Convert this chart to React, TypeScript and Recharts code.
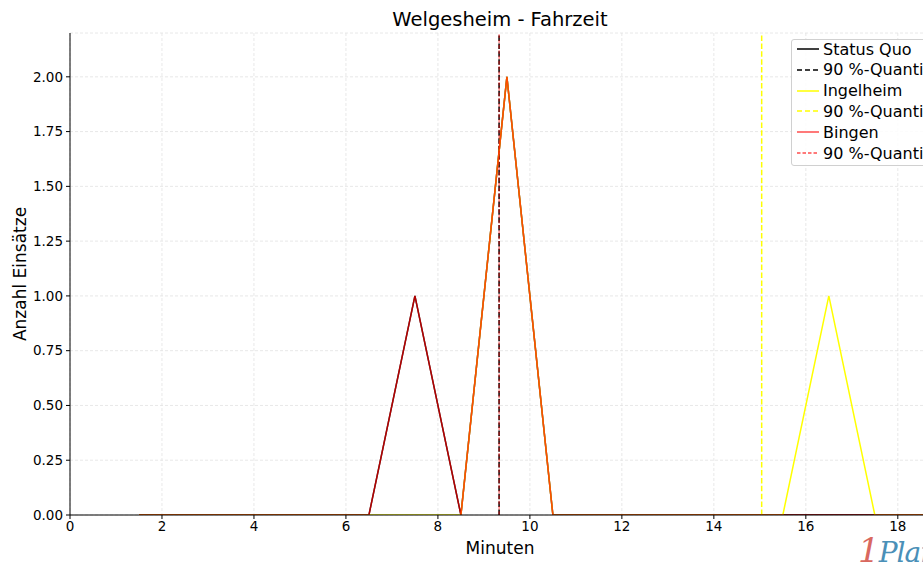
import {
  CartesianGrid,
  ComposedChart,
  Line,
  ReferenceLine,
  XAxis,
  YAxis,
} from 'recharts';

// Minuten (bin centres)
const minutes = [1.5, 2.5, 3.5, 4.5, 5.5, 6.5, 7.5, 8.5, 9.5, 10.5, 11.5, 12.5, 13.5, 14.5, 15.5, 16.5, 17.5, 18.5, 19.5];
const statusQuo = [0, 0, 0, 0, 0, 0, 1, 0, 2, 0, 0, 0, 0, 0, 0, 0, 0, 0, 0];
const ingelheim = [0, 0, 0, 0, 0, 0, 0, 0, 2, 0, 0, 0, 0, 0, 0, 1, 0, 0, 0];
const bingen = [0, 0, 0, 0, 0, 0, 1, 0, 2, 0, 0, 0, 0, 0, 0, 0, 0, 0, 0];

const q90StatusQuo = 9.33;
const q90Ingelheim = 15.04;
const q90Bingen = 9.33;

const xTicks = [0, 2, 4, 6, 8, 10, 12, 14, 16, 18];
const yTicks = [0, 0.25, 0.5, 0.75, 1, 1.25, 1.5, 1.75, 2];

const FONT = '"DejaVu Sans", sans-serif';
const RED = 'rgba(255,0,0,0.7)';

const data = minutes.map((m, i) => ({
  x: m,
  sq: statusQuo[i],
  ing: ingelheim[i],
  bin: bingen[i],
}));

const legendItems = [
  { label: 'Status Quo', color: '#000000', dash: undefined },
  { label: '90 %-Quantil', color: '#000000', dash: '5 3' },
  { label: 'Ingelheim', color: '#ffff00', dash: undefined },
  { label: '90 %-Quantil', color: '#ffff00', dash: '5 3' },
  { label: 'Bingen', color: RED, dash: undefined },
  { label: '90 %-Quantil', color: RED, dash: '3.5 2' },
];

function LegendBox() {
  return (
    <div
      style={{
        position: 'absolute',
        left: 791,
        top: 39,
        width: 160,
        height: 127,
        border: '1px solid #d0d0d0',
        borderRadius: 3,
        background: 'rgba(255,255,255,0.85)',
        fontFamily: FONT,
        fontSize: 16,
        color: '#000',
        boxSizing: 'border-box',
      }}
    >
      {legendItems.map((it, i) => (
        <div
          key={i}
          style={{ position: 'absolute', left: 4, top: -1 + i * 20.8, height: 20, display: 'flex', alignItems: 'center', whiteSpace: 'nowrap' }}
        >
          <svg width={24} height={10} style={{ marginRight: 3 }}>
            <line x1={1} y1={5} x2={23} y2={5} stroke={it.color} strokeWidth={1.5} strokeDasharray={it.dash} />
          </svg>
          <span>{it.label}</span>
        </div>
      ))}
    </div>
  );
}

export default function App() {
  return (
    <div
      style={{
        position: 'absolute',
        left: 0,
        top: 0,
        width: 923,
        height: 583,
        overflow: 'hidden',
        background: '#fff',
        fontFamily: FONT,
      }}
    >
      <div
        style={{ position: 'absolute', left: 70, top: 8, width: 860, textAlign: 'center', fontSize: 19.5, fontFamily: FONT, color: '#000' }}
      >
        Welgesheim - Fahrzeit
      </div>
      <ComposedChart
        width={940}
        height={583}
        data={data}
        margin={{ top: 33, right: 10, bottom: 0, left: 0 }}
      >
        <CartesianGrid stroke="#e2e2e2" strokeDasharray="3 2" strokeWidth={0.8} />
        <XAxis
          dataKey="x"
          type="number"
          domain={[0, 18.7]}
          allowDataOverflow
          ticks={xTicks}
          interval={0}
          height={68}
          tick={{ fill: '#000', fontSize: 13.5, fontFamily: FONT }}
          tickSize={4}
          tickMargin={2}
          axisLine={{ stroke: '#000', strokeWidth: 1 }}
          tickLine={{ stroke: '#000' }}
          label={{ value: 'Minuten', position: 'insideBottom', offset: 29, fill: '#000', fontSize: 17, fontFamily: FONT }}
        />
        <XAxis
          xAxisId="top"
          orientation="top"
          dataKey="x"
          type="number"
          domain={[0, 18.7]}
          height={0}
          tick={false}
          tickLine={false}
          axisLine={{ stroke: '#000', strokeWidth: 1 }}
        />
        <YAxis
          type="number"
          domain={[0, 2.2]}
          allowDataOverflow
          ticks={yTicks}
          interval={0}
          width={70}
          tickFormatter={(v: number) => v.toFixed(2)}
          tick={{ fill: '#000', fontSize: 13.5, fontFamily: FONT }}
          tickSize={4}
          tickMargin={3}
          axisLine={{ stroke: '#000', strokeWidth: 1 }}
          tickLine={{ stroke: '#000' }}
          label={{ value: 'Anzahl Einsätze', angle: -90, position: 'insideLeft', offset: 20, fill: '#000', fontSize: 17, fontFamily: FONT, style: { textAnchor: 'middle' } }}
        />
        <Line type="linear" dataKey="sq" stroke="#000000" strokeWidth={1.5} dot={false} isAnimationActive={false} />
        <ReferenceLine x={q90StatusQuo} stroke="#000000" strokeWidth={1.5} strokeDasharray="5.5 2.4" />
        <Line type="linear" dataKey="ing" stroke="#ffff00" strokeWidth={1.5} dot={false} isAnimationActive={false} />
        <ReferenceLine x={q90Ingelheim} stroke="#ffff00" strokeWidth={1.5} strokeDasharray="5.5 2.4" />
        <Line type="linear" dataKey="bin" stroke={RED} strokeWidth={1.5} dot={false} isAnimationActive={false} />
        <ReferenceLine x={q90Bingen} stroke={RED} strokeWidth={1} strokeDasharray="3.7 1.6" />
      </ComposedChart>
      <LegendBox />
      <div
        style={{ position: 'absolute', left: 858, top: 530, fontSize: 34, fontStyle: 'italic', fontFamily: '"DejaVu Serif", serif', whiteSpace: 'nowrap', letterSpacing: -1 }}
      >
        <span style={{ color: '#d9685f' }}>1</span>
        <span style={{ color: '#4a90b8', fontSize: 28 }}>Plan</span>
      </div>
    </div>
  );
}
